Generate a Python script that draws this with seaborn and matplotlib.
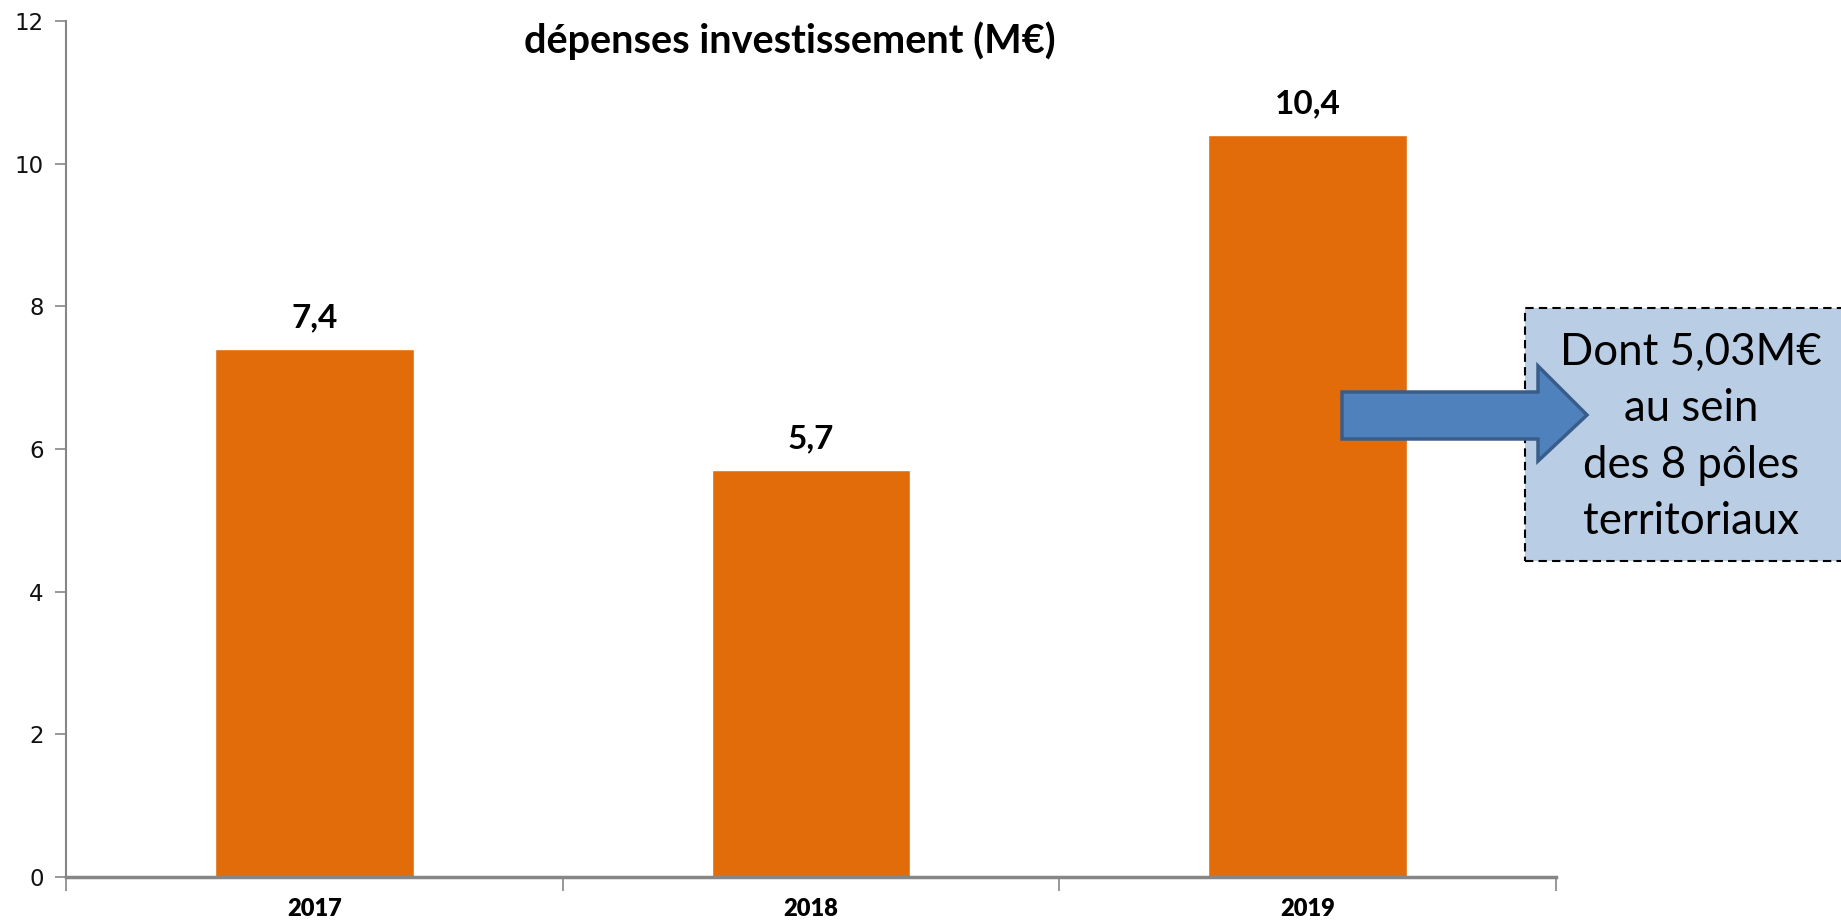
import matplotlib
matplotlib.use("Agg")
import matplotlib.pyplot as plt
import seaborn as sns
import pandas as pd
from matplotlib.patches import Rectangle, Polygon

years = ["2017", "2018", "2019"]
values = [7.4, 5.7, 10.4]
value_labels = ["7,4", "5,7", "10,4"]
yticks = [0, 2, 4, 6, 8, 10, 12]
title = "dépenses investissement (M€)"
note = "Dont 5,03M€\nau sein\ndes 8 pôles\nterritoriaux"

sns.set_theme(style="white")
plt.rcParams["font.family"] = ["Lato", "DejaVu Sans"]

W, H = 1841, 924
fig = plt.figure(figsize=(W / 100, H / 100), dpi=100)
ax = fig.add_axes([66 / W, 1 - 877 / H, (1556 - 66) / W, (877 - 21) / H])

df = pd.DataFrame({"year": years, "value": values})
sns.barplot(data=df, x="year", y="value", color="#E36C0A", saturation=1,
            width=0.4, ax=ax, errorbar=None)

ax.set_xlim(-0.5, 2.5)
ax.set_ylim(0, 12)
ax.set_yticks(yticks)
ax.set_yticklabels([str(t) for t in yticks], fontfamily="DejaVu Sans",
                   fontsize=16.5, color="#111111")
ax.set_xticks(range(len(years)))
ax.set_xticklabels(years, fontsize=17, fontweight="heavy", color="black",
                   family=["Lato", "DejaVu Sans"])
ax.set_xticks([-0.5, 0.5, 1.5, 2.5], minor=True)
ax.tick_params(axis="x", which="major", length=0, pad=15)
ax.tick_params(axis="x", which="minor", bottom=True, length=10, width=1.2,
               color="#868686")
ax.tick_params(axis="y", which="major", length=8, width=1.2, color="#868686",
               pad=8, left=True)
ax.set_xlabel("")
ax.set_ylabel("")
for s in ["top", "right"]:
    ax.spines[s].set_visible(False)
ax.spines["left"].set_color("#868686")
ax.spines["left"].set_linewidth(1.5)
ax.spines["bottom"].set_color("#868686")
ax.spines["bottom"].set_linewidth(2.5)
ax.grid(False)

for cont in ax.containers:
    ax.bar_label(cont, labels=value_labels, padding=12, fontsize=24,
                 fontweight="bold", color="black")

fig.text(790 / W, 1 - 41 / H, title, ha="center", va="center",
         fontsize=28.5, fontweight="bold", color="black")

# note box
box = Rectangle((1525 / W, 1 - 561 / H), (1870 - 1525) / W, (561 - 308) / H,
                transform=fig.transFigure, facecolor="#B9CDE5",
                edgecolor="black", linestyle=(0, (4, 2.5)), linewidth=1.5,
                zorder=5, clip_on=False)
fig.add_artist(box)
fig.text(1691 / W, 1 - 437 / H, note, ha="center", va="center",
         fontsize=31.5, color="black", linespacing=1.47, zorder=6)

# arrow
pts = [(1342, 392), (1538, 392), (1538, 366), (1587, 415), (1538, 461),
       (1538, 439), (1342, 439)]
arrow = Polygon([(x / W, 1 - y / H) for x, y in pts], closed=True,
                transform=fig.transFigure, facecolor="#4F81BD",
                edgecolor="#385D8A", linewidth=2.5, zorder=7)
fig.add_artist(arrow)

fig.savefig("out.png", dpi=100)
